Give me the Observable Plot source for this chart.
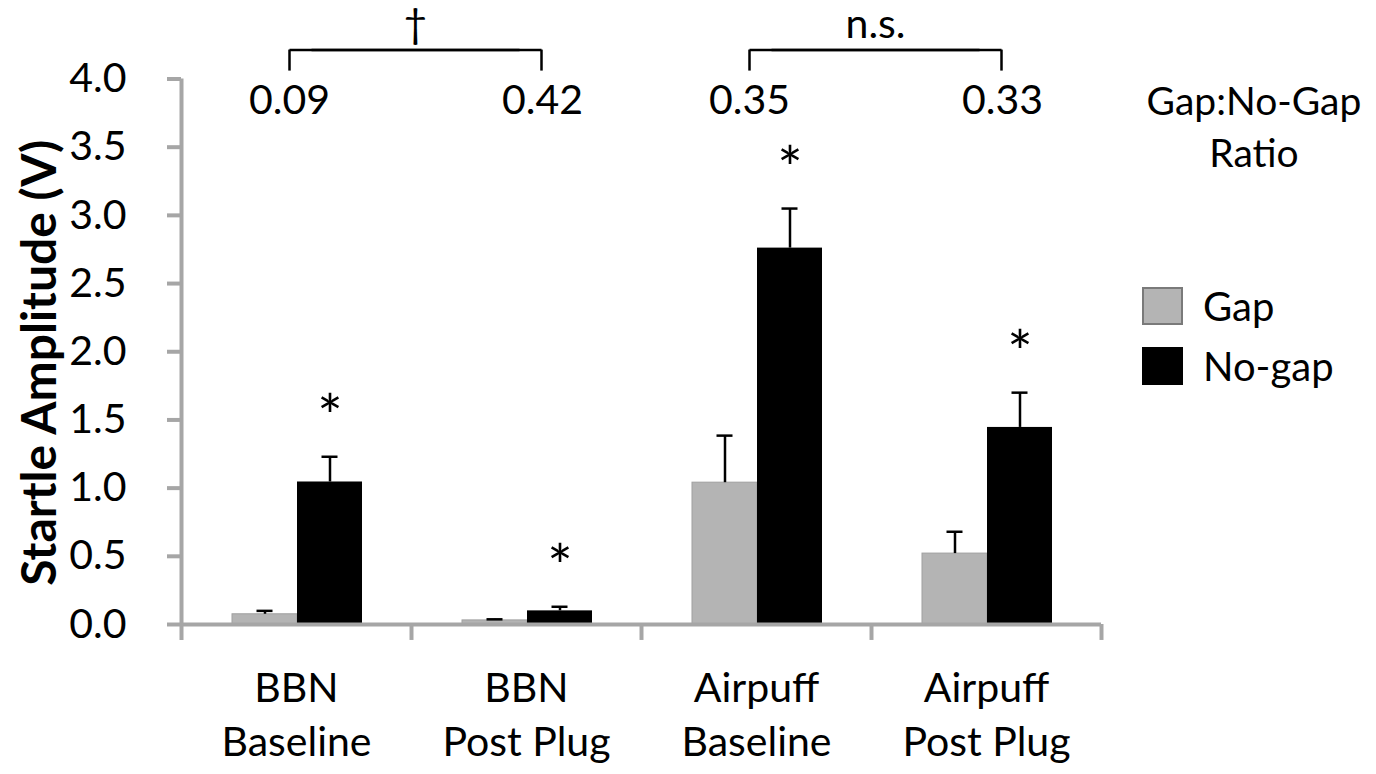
<!DOCTYPE html>
<html><head><meta charset="utf-8">
<script src="https://cdn.jsdelivr.net/npm/d3@7"></script>
<script src="https://cdn.jsdelivr.net/npm/@observablehq/plot@0.6"></script>
<style>
body{margin:0;background:#fff;font-family:Lato,sans-serif}
#wrap{position:relative;width:1376px;height:774px}
.note{position:absolute;left:1124px;top:74px;width:260px;font-size:39px;line-height:52px;text-align:center;color:#000}
.leg{position:absolute;left:1142px;font-size:40px;display:flex;align-items:center;color:#000}
.sw{width:37px;height:34px;border:2px solid #7a7a7a;margin-right:20px}
</style></head><body><div id="wrap"></div>
<script>
const categories = ["BBN\nBaseline", "BBN\nPost Plug", "Airpuff\nBaseline", "Airpuff\nPost Plug"];
const gapValues = [0.075, 0.03, 1.04, 0.52];
const gapErrors = [0.025, 0.008, 0.345, 0.16];
const noGapValues = [1.045, 0.10, 2.76, 1.445];
const noGapErrors = [0.185, 0.03, 0.29, 0.255];
const ratioLabels = ["0.09", "0.42", "0.35", "0.33"];
const starLabels = ["*", "*", "*", "*"];
const comparisons = [
  {from: "BBN\nBaseline", to: "BBN\nPost Plug", label: "\u2020"},
  {from: "Airpuff\nBaseline", to: "Airpuff\nPost Plug", label: "n.s."}
];
const yTicks = [0, 0.5, 1, 1.5, 2, 2.5, 3, 3.5, 4];
const seriesNames = ["Gap", "No-gap"];
const seriesColors = ["#b4b4b4", "#000000"];

const gapRows = categories.map((c, i) => ({cat: c, v: gapValues[i], e: gapErrors[i]}));
const noGapRows = categories.map((c, i) => ({cat: c, v: noGapValues[i], e: noGapErrors[i], star: starLabels[i]}));
const ratioRows = categories.map((c, i) => ({cat: c, label: ratioLabels[i], side: i % 2}));

const axisGray = "#a6a6a6";
const plot = Plot.plot({
  width: 1376,
  height: 774,
  marginLeft: 181,
  marginRight: 275,
  marginTop: 78.5,
  marginBottom: 150,
  style: {fontFamily: "Lato, sans-serif", fontSize: "41px", color: "#000", background: "#fff"},
  x: {domain: categories, padding: 0, round: false, axis: null},
  y: {domain: [0, 4]},
  marks: [
    Plot.barY(gapRows, {x: "cat", y: "v", fill: seriesColors[0], stroke: "#a0a0a0", strokeWidth: 1, insetLeft: 51, insetRight: 114}),
    Plot.barY(noGapRows, {x: "cat", y: "v", fill: seriesColors[1], insetLeft: 116, insetRight: 49}),
    Plot.ruleX(gapRows, {x: "cat", y1: "v", y2: d => d.v + d.e, dx: -31.5, stroke: "#000", strokeWidth: 2.5}),
    Plot.tickY(gapRows, {x: "cat", y: d => d.v + d.e, insetLeft: 75.5, insetRight: 138.5, stroke: "#000", strokeWidth: 2.5}),
    Plot.ruleX(noGapRows, {x: "cat", y1: "v", y2: d => d.v + d.e, dx: 33.5, stroke: "#000", strokeWidth: 2.5}),
    Plot.tickY(noGapRows, {x: "cat", y: d => d.v + d.e, insetLeft: 140.5, insetRight: 73.5, stroke: "#000", strokeWidth: 2.5}),
    Plot.text(noGapRows, {x: "cat", y: d => d.v + d.e, text: "star", dx: 33.5, dy: -38, fontSize: 60}),
    // axes
    Plot.ruleY([0], {stroke: axisGray, strokeWidth: 4}),
    Plot.ruleX([categories[0]], {dx: -115, y1: -0.117, y2: 4, stroke: axisGray, strokeWidth: 4}),
    Plot.ruleX(categories, {x: d => d, dx: 115, y1: -0.117, y2: 0, stroke: axisGray, strokeWidth: 4}),
    Plot.axisY({ticks: yTicks, tickSize: 14, tickPadding: 41, tickFormat: d3.format(".1f"), stroke: axisGray, strokeWidth: 4, fontSize: 41, label: null}),
    Plot.text(categories, {x: d => d, text: d => d, frameAnchor: "bottom", dy: 87.5, lineAnchor: "middle", lineHeight: 1.3, fontSize: 41}),
    Plot.text(["Startle Amplitude (V)"], {text: d => d, frameAnchor: "left", textAnchor: "middle", dx: -141, dy: 11, rotate: -90, fontWeight: "bold", fontSize: 48}),
    // ratio labels
    Plot.text(ratioRows.filter(d => d.side === 0), {x: "cat", y: 4, text: "label", dx: -7, dy: 22, fontSize: 41}),
    Plot.text(ratioRows.filter(d => d.side === 1), {x: "cat", y: 4, text: "label", dx: 16, dy: 22, fontSize: 41}),
    // brackets
    Plot.link(comparisons, {x1: "from", x2: "to", y1: 4.212, y2: 4.212, dx: -7, stroke: "#000", strokeWidth: 2.5}),
    Plot.link(comparisons, {x1: "from", x2: "to", y1: 4.212, y2: 4.212, dx: 15, stroke: "#000", strokeWidth: 2.5}),
    Plot.ruleX(comparisons, {x: "from", y1: 4.058, y2: 4.212, dx: -7, stroke: "#000", strokeWidth: 2.5}),
    Plot.ruleX(comparisons, {x: "to", y1: 4.058, y2: 4.212, dx: 15, stroke: "#000", strokeWidth: 2.5}),
    Plot.text(comparisons, {x: "from", y: 4.212, text: "label", dx: 119, dy: -12, lineAnchor: "bottom", fontSize: 41})
  ]
});
const wrap = document.getElementById("wrap");
wrap.appendChild(plot);
const note = document.createElement("div");
note.className = "note";
note.innerHTML = "Gap:No-Gap<br>Ratio";
wrap.appendChild(note);
seriesNames.forEach((name, i) => {
  const row = document.createElement("div");
  row.className = "leg";
  row.style.top = (282 + i * 60) + "px";
  const sw = document.createElement("div");
  sw.className = "sw";
  sw.style.background = seriesColors[i];
  if (i === 1) sw.style.borderColor = "#000";
  const t = document.createElement("span");
  t.textContent = name;
  row.appendChild(sw);
  row.appendChild(t);
  wrap.appendChild(row);
});
</script></body></html>
